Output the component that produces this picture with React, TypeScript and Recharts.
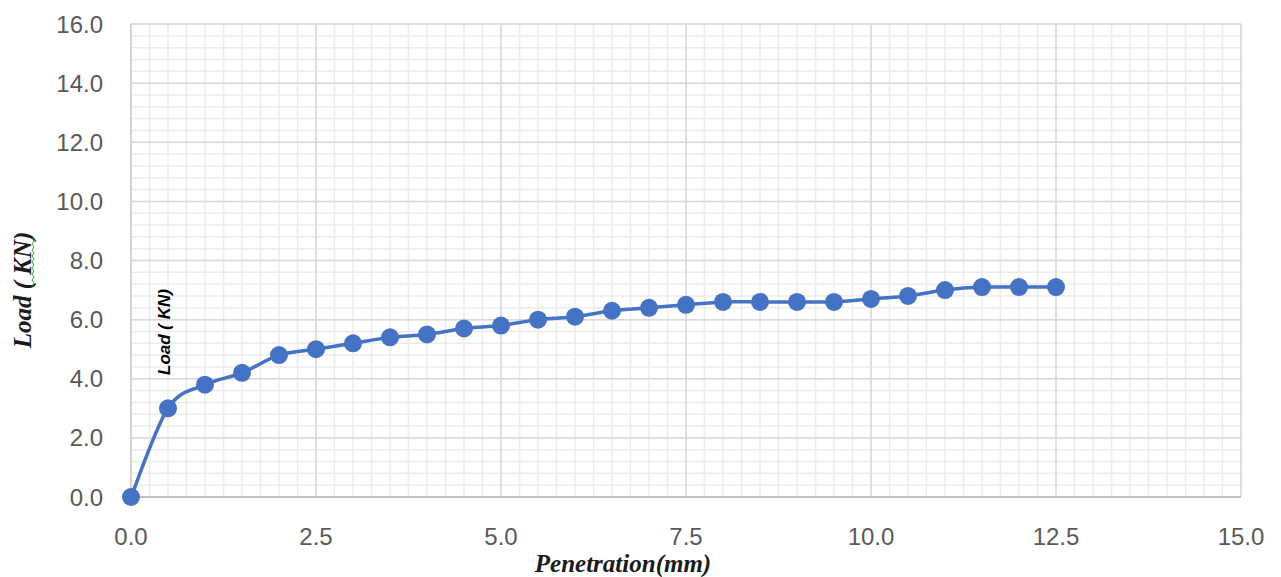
import { CartesianGrid, Label, Line, LineChart, XAxis, YAxis } from "recharts";

// penetration (mm) vs load (kN)
const penetration = [0, 0.5, 1, 1.5, 2, 2.5, 3, 3.5, 4, 4.5, 5, 5.5, 6, 6.5, 7, 7.5, 8, 8.5, 9, 9.5, 10, 10.5, 11, 11.5, 12, 12.5];
const load = [0, 3.0, 3.8, 4.2, 4.8, 5.0, 5.2, 5.4, 5.5, 5.7, 5.8, 6.0, 6.1, 6.3, 6.4, 6.5, 6.6, 6.6, 6.6, 6.6, 6.7, 6.8, 7.0, 7.1, 7.1, 7.1];

const xTicks = [0, 2.5, 5, 7.5, 10, 12.5, 15];
const yTicks = [0, 2, 4, 6, 8, 10, 12, 14, 16];
const xMinor = Array.from({ length: 61 }, (_, i) => i * 0.25);
const yMinor = Array.from({ length: 41 }, (_, i) => Math.round(i * 4) / 10);

const data = penetration.map((p, i) => ({ p, load: load[i] }));

const tickStyle = { fill: "#595959", fontSize: 24, fontFamily: "Liberation Sans, Arial, sans-serif" };
const serifTitle = { fontFamily: "Liberation Serif, serif", fontWeight: "bold", fontStyle: "italic", fill: "#1a1a1a" };

// spreadsheet-style smoothed line (bezier through the points, tension 1/6)
const smoothCurve = (ctx: any) => {
  let xs: number[] = [];
  let ys: number[] = [];
  return {
    areaStart() {},
    areaEnd() {},
    lineStart() {
      xs = [];
      ys = [];
    },
    point(x: number, y: number) {
      xs.push(+x);
      ys.push(+y);
    },
    lineEnd() {
      const n = xs.length;
      if (!n) return;
      ctx.moveTo(xs[0], ys[0]);
      for (let i = 0; i < n - 1; i++) {
        const a = Math.max(i - 1, 0);
        const b = Math.min(i + 2, n - 1);
        ctx.bezierCurveTo(
          xs[i] + (xs[i + 1] - xs[a]) / 6,
          ys[i] + (ys[i + 1] - ys[a]) / 6,
          xs[i + 1] - (xs[b] - xs[i]) / 6,
          ys[i + 1] - (ys[b] - ys[i]) / 6,
          xs[i + 1],
          ys[i + 1]
        );
      }
    },
  };
};

const YTitle = (props: any) => {
  const vb = props.viewBox || { x: 0, y: 24 };
  const cx = vb.x + 22;
  const cy = vb.y + 266;
  // spell-check squiggle under "KN"
  let d = `M ${cx + 10} ${cy - 52}`;
  for (let i = 1; i <= 16; i++) {
    d += ` L ${cx + 10 + (i % 2 ? 2 : 0)} ${cy - 52 + i * 3}`;
  }
  return (
    <g>
      <text x={cx} y={cy} transform={`rotate(-90 ${cx} ${cy})`} textAnchor="middle" dominantBaseline="central" fontSize={25} {...serifTitle}>
        Load ( KN)
      </text>
      <path d={d} stroke="#2eab2e" strokeWidth={1} fill="none" />
    </g>
  );
};

const XTitle = (props: any) => {
  const vb = props.viewBox || { x: 131, y: 497 };
  return (
    <text x={vb.x + 492} y={vb.y + 75} textAnchor="middle" fontSize={25} {...serifTitle}>
      Penetration(mm)
    </text>
  );
};

export default function App() {
  return (
    <div style={{ position: "absolute", left: 0, top: 0, width: 1281, height: 577, background: "#fff" }}>
      <LineChart width={1281} height={577} data={data} margin={{ top: 24, right: 40, left: 0, bottom: 0 }}>
        <CartesianGrid stroke="#ececec" strokeWidth={1.5} horizontalValues={yMinor} verticalValues={xMinor} />
        <CartesianGrid stroke="#d9d9d9" strokeWidth={1.5} horizontalValues={yTicks} verticalValues={xTicks} />
        <XAxis
          dataKey="p"
          type="number"
          domain={[0, 15]}
          ticks={xTicks}
          interval={0}
          tickFormatter={(v: number) => v.toFixed(1)}
          tick={tickStyle}
          tickLine={false}
          tickSize={0}
          tickMargin={31}
          axisLine={{ stroke: "#bfbfbf", strokeWidth: 2 }}
          height={80}
        >
          <Label content={XTitle} />
        </XAxis>
        <YAxis
          type="number"
          domain={[0, 16]}
          ticks={yTicks}
          interval={0}
          tickFormatter={(v: number) => v.toFixed(1)}
          tick={tickStyle}
          tickLine={false}
          tickSize={0}
          tickMargin={28}
          axisLine={{ stroke: "#d0d0d0", strokeWidth: 1.5 }}
          width={131}
        >
          <Label content={YTitle} />
        </YAxis>
        <Line
          type={smoothCurve as any}
          dataKey="load"
          stroke="#4472c4"
          strokeWidth={3.5}
          dot={{ r: 9, fill: "#4472c4", stroke: "none" }}
          activeDot={false}
          isAnimationActive={false}
        />
      </LineChart>
      <div
        style={{
          position: "absolute",
          left: 165,
          top: 332,
          transform: "translate(-50%, -50%) rotate(-90deg)",
          whiteSpace: "nowrap",
          fontFamily: "Liberation Sans, Arial, sans-serif",
          fontStyle: "italic",
          fontWeight: "bold",
          fontSize: 17,
          color: "#000",
        }}
      >
        Load ( KN)
      </div>
    </div>
  );
}
